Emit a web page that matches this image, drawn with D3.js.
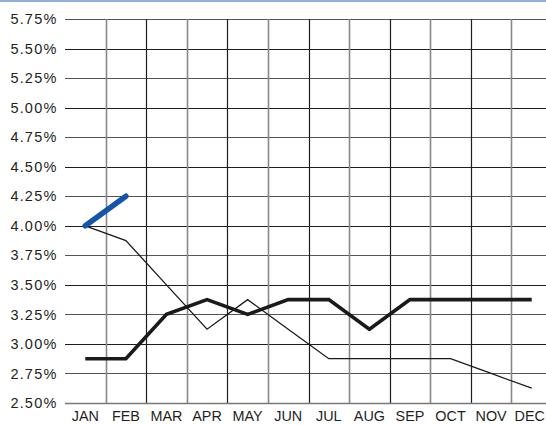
<!DOCTYPE html>
<html>
<head>
<meta charset="utf-8">
<script src="https://cdn.jsdelivr.net/npm/d3@7"></script>
<style>
  html, body { margin: 0; padding: 0; background: #fff; }
  svg { display: block; }
</style>
</head>
<body>
<svg id="chart" width="546" height="425"></svg>
<script>
const months = ["JAN","FEB","MAR","APR","MAY","JUN","JUL","AUG","SEP","OCT","NOV","DEC"];
const yTicks = [2.50, 2.75, 3.00, 3.25, 3.50, 3.75, 4.00, 4.25, 4.50, 4.75, 5.00, 5.25, 5.50, 5.75];

// Rate paths, in percent
const thinSeries  = [4.00, 3.875, 3.50, 3.125, 3.375, 3.125, 2.875, 2.875, 2.875, 2.875, 2.75, 2.625];
const thickSeries = [2.875, 2.875, 3.25, 3.375, 3.25, 3.375, 3.375, 3.125, 3.375, 3.375, 3.375, 3.375];
const blueSeries  = [4.00, 4.25];

const svg = d3.select("#chart");
const W = 546, H = 425;
const FONT = "'Liberation Sans', Arial, Helvetica, sans-serif";

const x = d3.scaleBand().domain(months).range([65, 552]).paddingInner(0).paddingOuter(0);
const y = d3.scaleLinear().domain([2.5, 5.75]).range([403, 19]);
const cx = m => x(m) + x.bandwidth() / 2;

// top rule
svg.append("rect").attr("x", 0).attr("y", 0).attr("width", W).attr("height", 2).attr("fill", "#8eb1da");

// horizontal grid
const hg = svg.append("g");
yTicks.forEach((t, i) => {
  if (i === 0) return;
  hg.append("line")
    .attr("x1", 65).attr("x2", W)
    .attr("y1", Math.round(y(t)) + 0.5).attr("y2", Math.round(y(t)) + 0.5)
    .attr("stroke", i % 2 === 0 ? "#1e1e1e" : "#555")
    .attr("stroke-width", 1.2);
});
// vertical grid at month boundaries
months.slice(1).forEach((m, i) => {
  const xx = Math.round(x(m)) + 0.5;
  svg.append("line")
    .attr("x1", xx).attr("x2", xx)
    .attr("y1", y(5.75)).attr("y2", y(2.5))
    .attr("stroke", i % 2 === 0 ? "#888" : "#1e1e1e")
    .attr("stroke-width", i % 2 === 0 ? 1.6 : 1.2);
});
// baseline
svg.append("line")
  .attr("x1", 65).attr("x2", W)
  .attr("y1", Math.round(y(2.5)) + 0.5).attr("y2", Math.round(y(2.5)) + 0.5)
  .attr("stroke", "#777").attr("stroke-width", 1.3);

// y axis labels
const yAxis = d3.axisLeft(y).tickValues(yTicks).tickSize(0).tickPadding(0)
  .tickFormat(d => d3.format(".2f")(d) + "%");
const ya = svg.append("g").attr("transform", "translate(57.5,0)").call(yAxis);
ya.select(".domain").remove();
ya.selectAll("text")
  .style("font-size", "14.5px").style("font-family", FONT).style("fill", "#231f20")
  .style("letter-spacing", "1.2px");

// x axis labels
const xAxis = d3.axisBottom(x).tickSize(0).tickPadding(0);
const xa = svg.append("g").attr("transform", "translate(0,411)").call(xAxis);
xa.select(".domain").remove();
xa.selectAll("text")
  .style("font-size", "14.4px").style("font-family", FONT).style("fill", "#231f20");
// keep the last month label inside the frame
xa.selectAll(".tick").filter(d => d === "DEC").select("text")
  .attr("text-anchor", "end").attr("x", W - cx("DEC") - 1);

const line = d3.line().x((d, i) => cx(months[i])).y(d => y(d));

svg.append("path").datum(thinSeries).attr("d", line)
  .attr("fill", "none").attr("stroke", "#1a1a1a").attr("stroke-width", 1.3);
svg.append("path").datum(thickSeries).attr("d", line)
  .attr("fill", "none").attr("stroke", "#1a1a1a").attr("stroke-width", 3.6)
  .attr("stroke-linejoin", "miter");
svg.append("path").datum(blueSeries).attr("d", line)
  .attr("fill", "none").attr("stroke", "#1554a8").attr("stroke-width", 5.5)
  .attr("stroke-linecap", "round");
</script>
</body>
</html>
